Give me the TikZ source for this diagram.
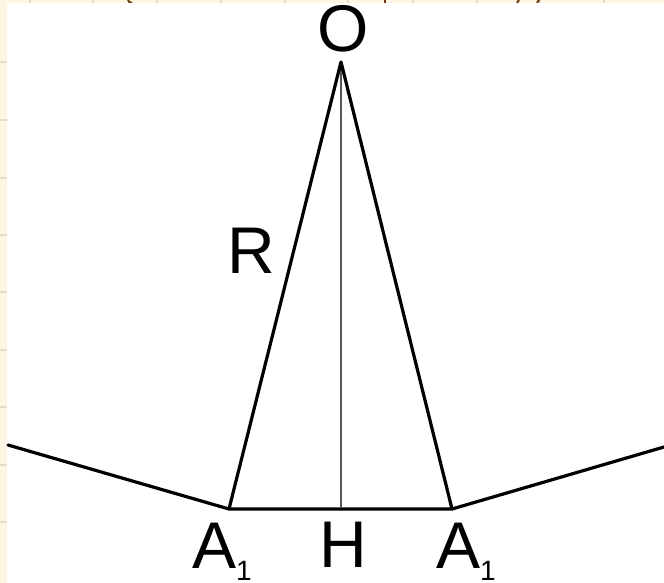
\documentclass[tikz,border=0pt]{standalone}
\usepackage{fontspec}
\setmainfont{Liberation Sans}
\definecolor{cream}{HTML}{FEF6E4}
\definecolor{gridc}{HTML}{E4DCCB}
\definecolor{brownc}{HTML}{6B3A10}
\definecolor{grayline}{HTML}{555555}
\begin{document}
\begin{tikzpicture}[x=1pt,y=-1pt,
  edge/.style={line width=3.2pt,line join=round,line cap=round},
  midline/.style={line width=2.6pt,grayline},
  lbl/.style={inner sep=0pt,outer sep=0pt,font=\fontsize{66}{70}\selectfont},
  gridline/.style={gridc,line width=1.2pt},
  frag/.style={brownc,line width=2pt}]
\useasboundingbox (0,0) rectangle (664,583);
\fill[cream] (0,0) rectangle (664,583);
% faint grid of the page behind
\foreach \yy in {62,120,178,235,292,350,407,465,522}
  \draw[gridline] (0,\yy) -- (7,\yy);
\foreach \xx in {30,93,157,221,285,348,413,477,540,604}
  \draw[gridline] (\xx,0) -- (\xx,3);
% cut-off brown text above
\draw[frag] (128,0) .. controls (129,2) .. (132,3);
\draw[frag] (385,0) -- (385,3);
\draw[frag] (519,0) -- (517,3);
\draw[frag] (539,0) -- (537,3);
% white sheet
\fill[white] (7,3) rectangle (664,583);
% points
\coordinate (O) at (341,62);
\coordinate (A) at (229,509);
\coordinate (B) at (452,509);
\coordinate (H) at (341,507);
\coordinate (L) at (8,445);
\coordinate (E) at (664,447);
% lines
\draw[midline] (O) -- (H);
\draw[edge] (L) -- (A) -- (B) -- (E);
\draw[edge] (A) -- (O) -- (B);
% labels
\node[lbl,anchor=base] (lO) at (343,52) {O};
\node[lbl,anchor=base west] (lR) at (227,273) {R};
\node[lbl,anchor=base] (lH) at (343,567) {H};
\node[lbl,anchor=base west] (lA) at (192,568) {A\raisebox{-12pt}{\fontsize{28}{30}\selectfont 1}};
\node[lbl,anchor=base west] (lB) at (436,568) {A\raisebox{-12pt}{\fontsize{28}{30}\selectfont 1}};
\end{tikzpicture}
\end{document}
